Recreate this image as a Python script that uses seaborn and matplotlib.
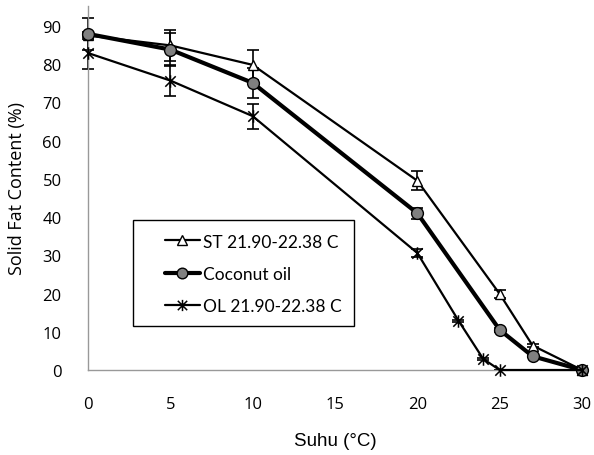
import matplotlib
matplotlib.use("Agg")
import matplotlib.pyplot as plt
import seaborn as sns
import pandas as pd
import numpy as np
from matplotlib.path import Path
from matplotlib.patches import Rectangle

# Data
st_x = [0, 5, 10, 20, 25, 27, 30]
st_y = [87.5, 84.9, 79.8, 49.5, 19.9, 6.4, 0.0]
st_err = [1.0, 4.1, 3.9, 2.5, 1.0, 0.5, 0.3]

co_x = [0, 5, 10, 20, 25, 27, 30]
co_y = [87.9, 83.8, 75.1, 41.0, 10.5, 3.6, 0.0]
co_err = [4.2, 4.4, 4.0, 1.5, 0.5, 0.3, 0.3]

ol_x = [0, 5, 10, 20, 22.5, 24, 25, 30]
ol_y = [82.9, 75.7, 66.4, 30.6, 12.9, 2.9, 0.0, 0.0]
ol_err = [4.3, 4.0, 3.3, 1.0, 0.3, 0.3, 0.0, 0.0]

labels = ["ST 21.90-22.38 C", "Coconut oil", "OL 21.90-22.38 C"]
xticks = [0, 5, 10, 15, 20, 25, 30]
yticks = [0, 10, 20, 30, 40, 50, 60, 70, 80, 90]

sns.set_theme(style="white")
plt.rcParams['font.family'] = ['Open Sans', 'DejaVu Sans']
plt.rcParams['text.color'] = 'black'
plt.rcParams['axes.labelcolor'] = 'black'
plt.rcParams['xtick.color'] = 'black'
plt.rcParams['ytick.color'] = 'black'

W, H = 594, 456
fig = plt.figure(figsize=(W/100, H/100), dpi=100)
ax = fig.add_axes([88/W, 1 - 371/H, (582 - 88)/W, (371 - 7)/H])

star = Path([(-1, -1), (1, 1), (-1, 1), (1, -1), (0, -1.2), (0, 1.2)],
            [Path.MOVETO, Path.LINETO, Path.MOVETO, Path.LINETO, Path.MOVETO, Path.LINETO])

df = pd.concat([
    pd.DataFrame({"x": st_x, "y": st_y, "s": labels[0]}),
    pd.DataFrame({"x": co_x, "y": co_y, "s": labels[1]}),
    pd.DataFrame({"x": ol_x, "y": ol_y, "s": labels[2]}),
])

specs = [
    (st_x, st_y, st_err, labels[0], dict(marker="^", mfc="white", mec="black", ms=7.5, lw=1.6, mew=1.0)),
    (co_x, co_y, co_err, labels[1], dict(marker="o", mfc="#808080", mec="black", ms=8.5, lw=3.0, mew=1.0)),
    (ol_x, ol_y, ol_err, labels[2], dict(marker=star, mfc="black", mec="black", ms=9, lw=1.6, mew=1.1)),
]

for xs, ys, errs, lab, st in specs:
    eb = ax.errorbar(xs, ys, yerr=errs, fmt="none", ecolor="black", elinewidth=1.2,
                     capsize=4, capthick=1.2, zorder=2)
    for a in eb.lines[1] + eb.lines[2]:
        a.set_clip_on(False)
    sub = df[df["s"] == lab]
    sns.lineplot(data=sub, x="x", y="y", ax=ax, color="black", lw=st["lw"],
                 marker=st["marker"], markerfacecolor=st["mfc"], markeredgecolor=st["mec"],
                 markersize=st["ms"], markeredgewidth=st["mew"], label=lab, zorder=3,
                 estimator=None, sort=False, clip_on=False)

ax.set_xlim(0, 30)
ax.set_ylim(0, 95.2)
ax.set_xticks(xticks)
ax.set_yticks(yticks)
ax.tick_params(axis="both", length=0, labelsize=12, labelcolor="black")
ax.tick_params(axis="x", pad=19)
ax.tick_params(axis="y", pad=19)
for s in ["top", "right"]:
    ax.spines[s].set_visible(False)
for s in ["left", "bottom"]:
    ax.spines[s].set_color("#999999")
    ax.spines[s].set_linewidth(1.0)
ax.grid(False)

ax.set_xlabel("Suhu (°C)", fontsize=13.5, family=["Liberation Sans", "DejaVu Sans"], labelpad=14)
ax.set_ylabel("Solid Fat Content (%)", fontsize=13, labelpad=12)

# legend box
box = Rectangle((133/W, 1 - 327/H), (354 - 133)/W, (327 - 221)/H, transform=fig.transFigure,
                facecolor="white", edgecolor="black", lw=1.0, zorder=4, clip_on=False)
ax.add_patch(box)

leg = ax.legend(loc="center left", bbox_to_anchor=(165/W, 1 - 275/H),
                bbox_transform=fig.transFigure,
                frameon=False,
                prop={"family": ["Lato", "DejaVu Sans"], "size": 12.5},
                handlelength=2.0, labelspacing=0.95, borderpad=0, handletextpad=0.2,
                borderaxespad=0, markerscale=0.9)
leg.set_zorder(5)

fig.savefig("out.png", dpi=100)
